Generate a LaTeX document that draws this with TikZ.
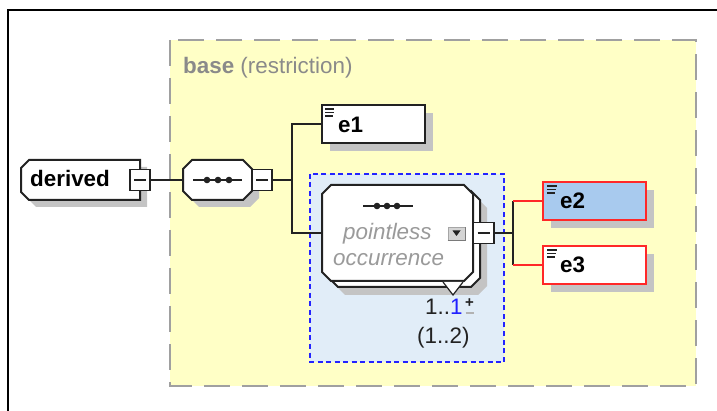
\documentclass[tikz,border=0pt]{standalone}
\usepackage{fontspec}
\setmainfont{Liberation Sans}
\definecolor{ybg}{HTML}{FFFFC6}
\definecolor{ydash}{HTML}{A0A0A0}
\definecolor{bbg}{HTML}{E1EDF8}
\definecolor{bdash}{HTML}{2323FF}
\definecolor{redb}{HTML}{FF2828}
\definecolor{efill}{HTML}{A8CAEE}
\definecolor{shad}{HTML}{C4C4C4}
\definecolor{ink}{HTML}{222222}
\definecolor{txtgray}{HTML}{8A8A8A}
\definecolor{ital}{HTML}{9A9A9A}
\definecolor{occblue}{HTML}{2020FF}
\begin{document}
\begin{tikzpicture}[x=1pt,y=-1pt,
  font=\fontsize{22.4}{26}\selectfont,
  ln/.style={draw=ink,line width=2pt},
  redln/.style={draw=redb,line width=2pt},
  txt/.style={inner sep=0pt,anchor=base west},
  minusbox/.style={draw=ink,line width=1.8pt,fill=white,minimum width=20pt,minimum height=21pt,inner sep=0pt},
  anchorbox/.style={draw=none,inner sep=0pt},
  elem/.style={line width=2pt,minimum width=103pt,minimum height=38pt,inner sep=0pt},
  icon/.style={draw=ink,line width=1.5pt},
  dotline/.style={draw=ink,line width=1.5pt}
]
\useasboundingbox (0,0) rectangle (717,411);
% outer frame (top and left edges)
\draw[line width=2pt,black] (7.5,411) -- (7.5,10) -- (717,10);

% base box
\draw[fill=ybg,draw=ydash,line width=2pt,dash pattern=on 26pt off 12pt] (170,40) rectangle (696,386);
\node[txt,text=txtgray] (basetitle) at (183,74) {\textbf{base} (restriction)};

% derived
\fill[shad] (36,167) -- (147,167) -- (147,207) -- (36,207) -- (28,199) -- (28,175) -- cycle;
\draw[ln,fill=white] (29,160) -- (140,160) -- (140,200) -- (29,200) -- (21,192) -- (21,168) -- cycle;
\node[anchorbox,minimum width=119pt,minimum height=40pt] (derived) at (80.5,180) {};
\node[txt] (derivedtxt) at (30,187) {\textbf{derived}};
\node[minusbox] (derivedminus) at (140,180) {};
\draw[ink,line width=1.5pt] ([xshift=-6pt]derivedminus.center) -- ([xshift=6pt]derivedminus.center);

% sequence
\fill[shad] (199,167) -- (250,167) -- (259,176) -- (259,198) -- (250,207) -- (199,207) -- (190,198) -- (190,176) -- cycle;
\draw[ln,fill=white] (192,160) -- (243,160) -- (252,169) -- (252,191) -- (243,200) -- (192,200) -- (183,191) -- (183,169) -- cycle;
\node[anchorbox,minimum width=69pt,minimum height=40pt] (seq) at (217.5,180) {};
\draw[dotline] (193,180) -- (242,180);
\foreach \d in {207,218,229} \fill[ink] (\d,180) circle (3.3pt);
\node[minusbox] (seqminus) at (262,180) {};
\draw[ink,line width=1.5pt] ([xshift=-6pt]seqminus.center) -- ([xshift=6pt]seqminus.center);

\draw[ln] (derivedminus.east) -- (seq.west);

% e1
\fill[shad] (330,113) rectangle (433,151);
\node[elem,draw=ink,fill=white] (e1) at (373.5,124) {};
\draw[icon] (325,109) -- (334,109) (325,112.5) -- (334,112.5) (325,116) -- (333,116);
\node[txt] (e1txt) at (338,133) {\textbf{e1}};

% blue dashed box
\draw[fill=bbg,draw=bdash,line width=1.6pt,dash pattern=on 5pt off 3.5pt] (310,174) rectangle (504,362);

% group (pointless occurrence)
\fill[shad] (345,199) -- (478,199) -- (487,208) -- (487,286) -- (478,295) -- (345,295) -- (336,286) -- (336,208) -- cycle;
\draw[ln,fill=white] (338,191) -- (471,191) -- (480,200) -- (480,278) -- (471,287) -- (338,287) -- (329,278) -- (329,200) -- cycle;
\draw[ln,fill=white] (331,185) -- (464,185) -- (473,194) -- (473,272) -- (464,281) -- (331,281) -- (322,272) -- (322,194) -- cycle;
\filldraw[fill=white,draw=ink,line width=1.2pt] (443,282) -- (453,295) -- (463,282);
\node[anchorbox,minimum width=151pt,minimum height=96pt] (grp) at (397.5,233) {};
\draw[dotline] (363,206) -- (413,206);
\foreach \d in {377,387,397} \fill[ink] (\d,206) circle (3.3pt);
\node[txt,text=ital,font=\fontsize{22.4}{26}\selectfont\itshape] (ptxt) at (343,240) {pointless};
\node[txt,text=ital,font=\fontsize{22.4}{26}\selectfont\itshape] (otxt) at (333,266) {occurrence};
\node[draw=gray!70,fill=black!17,line width=0.8pt,minimum width=17pt,minimum height=13pt,inner sep=0pt] (ddbtn) at (456.5,233.5) {};
\draw[ink!60,line width=1pt] (ddbtn.south west) -- (ddbtn.south east) -- (ddbtn.north east);
\fill[ink] (452.5,230.5) -- (460.5,230.5) -- (456.5,236) -- cycle;
\node[minusbox,minimum width=21pt] (grpminus) at (483.5,233) {};
\draw[ink,line width=1.5pt] ([xshift=-6pt]grpminus.center) -- ([xshift=6pt]grpminus.center);

% e2, e3
\fill[shad] (551,190) rectangle (654,228);
\node[elem,draw=redb,fill=efill] (e2) at (594.5,201) {};
\draw[icon] (547,186) -- (557,186) (547,189.5) -- (556,189.5) (547,193) -- (555,193);
\node[txt] (e2txt) at (560,209) {\textbf{e2}};
\fill[shad] (551,254) rectangle (654,292);
\node[elem,draw=redb,fill=white] (e3) at (594.5,265) {};
\draw[icon] (547,250) -- (557,250) (547,253.5) -- (556,253.5) (547,257) -- (555,257);
\node[txt] (e3txt) at (560,273) {\textbf{e3}};

% connectors
\coordinate (b1) at (292,180);
\draw[ln] (seqminus.east) -- (b1);
\draw[ln] (e1.west) -| (b1);
\draw[ln] (b1) |- (grp.west);
\coordinate (b2) at (513,233);
\draw[ln] (grpminus.east) -- (b2);
\draw[ln] (b2 |- e2.west) -- (b2 |- e3.west);
\draw[redln] (b2 |- e2.west) -- (e2.west);
\draw[redln] (b2 |- e3.west) -- (e3.west);

% occurrence labels
\node[txt,text=ink] (occ) at (425,315) {1..\textcolor{occblue}{1}};
\node[inner sep=0pt,text=ink] (plus) at (469.5,303) {\fontsize{15}{15}\selectfont\textbf{+}};
\draw[black!30,line width=1.3pt] (465.5,313) -- (473.5,313);
\node[txt,text=ink] (occ2) at (417,343) {(1..2)};
\end{tikzpicture}
\end{document}
